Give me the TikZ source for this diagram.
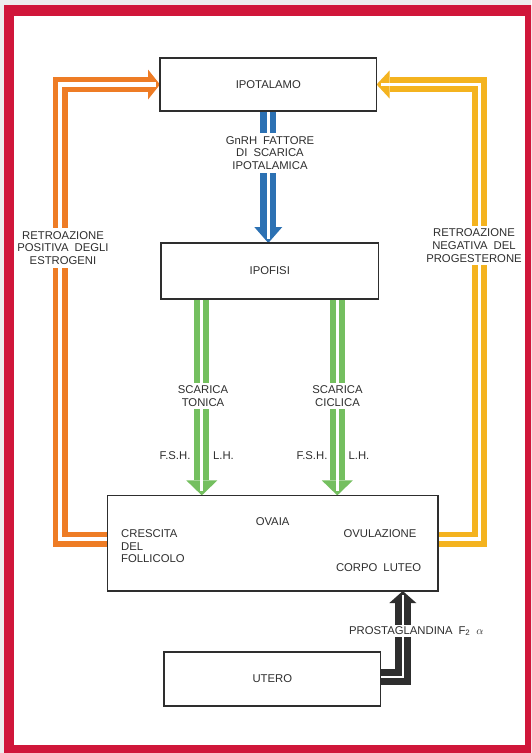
\documentclass[tikz,border=0pt]{standalone}
\usepackage{fontspec}
\setmainfont{Liberation Sans}
\usetikzlibrary{arrows.meta,positioning}

\definecolor{framered}{HTML}{D0163A}
\definecolor{hormblue}{HTML}{2C71B3}
\definecolor{hormgreen}{HTML}{74BF5F}
\definecolor{fborange}{HTML}{EE7C25}
\definecolor{fbyellow}{HTML}{F4B31F}
\definecolor{inkgray}{HTML}{2E2E2E}

\newcommand{\diagfont}{\fontsize{11.3}{12.7}\selectfont\spaceskip=6pt plus 1pt\relax}

\pgfdeclarelayer{flows}
\pgfsetlayers{flows,main}

\begin{document}
\begin{tikzpicture}[
    x=1pt, y=-1pt,
    font=\diagfont,
    box/.style={draw=inkgray, line width=1.4pt, fill=white, text=inkgray, inner sep=0pt, outer sep=0pt},
    lbl/.style={text=inkgray, align=center, inner sep=0pt},
    cut/.style={lbl, fill=white, inner sep=3pt},
    fat/.style n args={3}{line width=#1, line join=miter, -{Triangle[width=#2, length=#3, line width=0pt]}},
    slit/.style={white, line width=#1, line join=miter, shorten >=4pt}
  ]
    \useasboundingbox (0,0) rectangle (531,753);

    % boxes
    \node[box, minimum width=216.6pt, minimum height=53pt] (ipotalamo) at (268.3,84.5) {IPOTALAMO};
    \node[box, minimum width=217.6pt, minimum height=56pt] (ipofisi) at (269.8,271) {IPOFISI};
    \node[box, minimum width=330.5pt, minimum height=95.6pt] (ovaia) at (272.8,543.2) {};
    \node[box, minimum width=216.5pt, minimum height=54pt] (utero) at (272.3,679) {UTERO};

    \node[lbl] (ovaiatxt) at (272.6,521.5) {OVAIA};
    \node[lbl, align=left, anchor=west] (crescita) at (121,546.3) {CRESCITA\\DEL\\FOLLICOLO};
    \node[lbl] (ovulazione) at (380,534) {OVULAZIONE};
    \node[lbl] (corpo) at (378.6,567.5) {CORPO LUTEO};

    \begin{pgfonlayer}{flows}
      % frame
      \fill[black!7] (0,0) rectangle (531,753);
      \fill[framered, even odd rule] (4,5) rectangle (531,753) (14,16) rectangle (525,745);
      \fill[white] (14,16) rectangle (525,745);

      % hypothalamus -> pituitary
      \draw[fat={16pt}{28pt}{16pt}, hormblue] (ipotalamo.south) -- (ipotalamo.south |- ipofisi.north);
      \draw[slit=3pt] (ipotalamo.south) -- (ipotalamo.south |- ipofisi.north);

      % pituitary -> ovaries
      \draw[fat={15pt}{31pt}{15pt}, hormgreen] ([xshift=-68pt]ipofisi.south) -- ([xshift=-68pt]ipofisi.south |- ovaia.north);
      \draw[slit=2.7pt] ([xshift=-68pt]ipofisi.south) -- ([xshift=-68pt]ipofisi.south |- ovaia.north);
      \draw[fat={15pt}{31pt}{15pt}, hormgreen] ([xshift=67.5pt]ipofisi.south) -- ([xshift=67.5pt]ipofisi.south |- ovaia.north);
      \draw[slit=2.7pt] ([xshift=67.5pt]ipofisi.south) -- ([xshift=67.5pt]ipofisi.south |- ovaia.north);

      % feedback loops
      \draw[fat={15pt}{30pt}{12pt}, fborange] ([yshift=4pt]ovaia.west) -| ([xshift=-100pt]ipotalamo.west) -- (ipotalamo.west);
      \draw[slit=4.5pt] ([yshift=4pt]ovaia.west) -| ([xshift=-100pt]ipotalamo.west) -- (ipotalamo.west);
      \draw[fat={15pt}{28pt}{13pt}, fbyellow] ([yshift=4pt]ovaia.east) -| ([xshift=103pt]ipotalamo.east) -- (ipotalamo.east);
      \draw[slit=3.5pt] ([yshift=4pt]ovaia.east) -| ([xshift=103pt]ipotalamo.east) -- (ipotalamo.east);

      % uterus -> corpus luteum
      \draw[fat={15.5pt}{27pt}{12pt}, inkgray] ([yshift=2pt]utero.east) -| ([xshift=130pt]ovaia.south);
      \draw[slit=2.5pt] ([yshift=2pt]utero.east) -| ([xshift=130pt]ovaia.south);
    \end{pgfonlayer}

    % connector labels
    \node[cut] (gnrh) at (270,153) {GnRH FATTORE\\DI SCARICA\\IPOTALAMICA};
    \node[cut] (tonica) at (203,396) {SCARICA\\TONICA};
    \node[cut] (ciclica) at (337.5,396) {SCARICA\\CICLICA};
    \node[lbl] (fsha) at (175,456) {F.S.H.};
    \node[lbl] (lha) at (223.5,456) {L.H.};
    \node[lbl] (fshb) at (312,456) {F.S.H.};
    \node[lbl] (lhb) at (359,456) {L.H.};
    \node[cut] (fbpos) at (63,248) {RETROAZIONE\\POSITIVA DEGLI\\ESTROGENI};
    \node[cut] (fbneg) at (474,245.5) {RETROAZIONE\\NEGATIVA DEL\\PROGESTERONE};
    \node[cut, inner sep=1pt, anchor=west] (prost) at (348,631) {PROSTAGLANDINA F\textsubscript{2} $\alpha$};
  \end{tikzpicture}
\end{document}
